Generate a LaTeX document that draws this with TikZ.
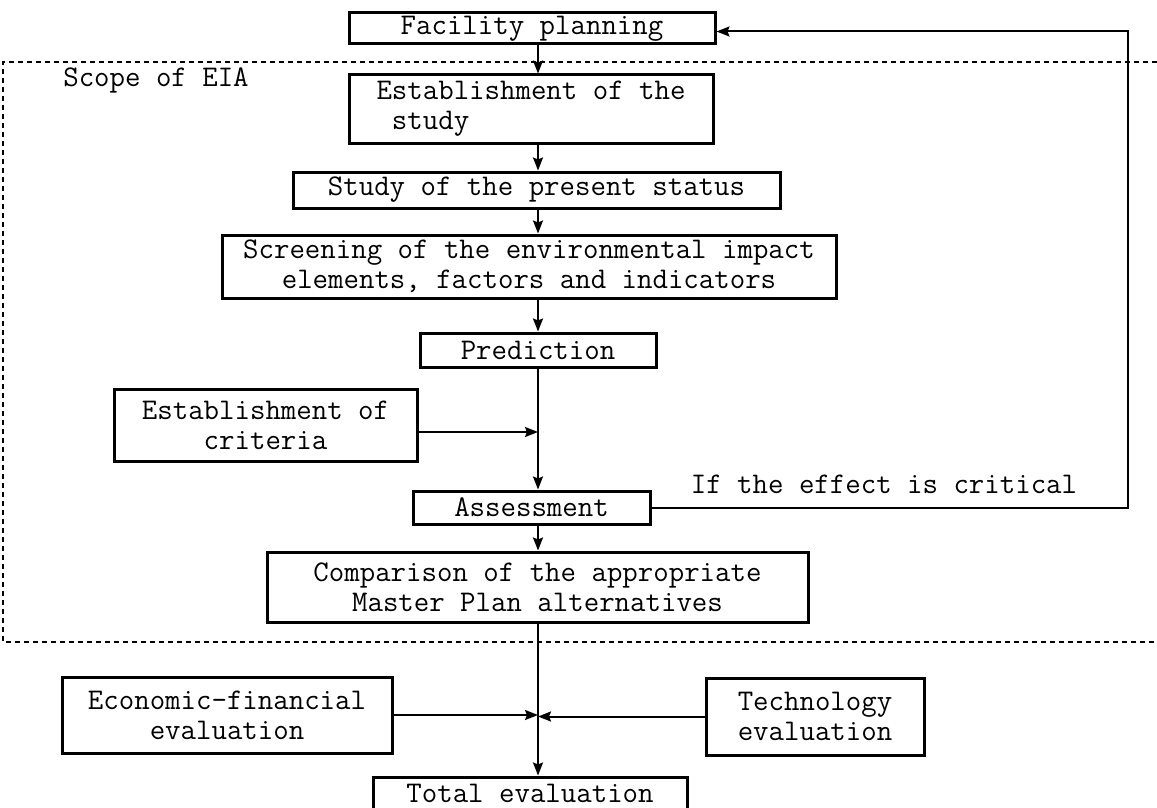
\documentclass[tikz,border=0pt]{standalone}
\usetikzlibrary{arrows.meta}
\newcommand\tfont{\fontsize{30}{30}\selectfont\ttfamily}
\begin{document}
\begin{tikzpicture}[x=1pt,y=-1pt,
  box/.style={draw, line width=3pt, inner sep=0pt, align=center, font=\tfont},
  lbl/.style={inner sep=0pt, font=\tfont},
  conn/.style={line width=2pt, -{Stealth[length=13pt,width=10pt,inset=2pt]}},
  scopeline/.style={line width=2pt, dash pattern=on 5pt off 4pt}]
\useasboundingbox (0,0) rectangle (1157,808);
\fill[white] (0,0) rectangle (1157,808);
% scope of EIA
\draw[scopeline] (1157,62) -- (3,62) -- (3,642) -- (1157,642);
\node[lbl] (scope) at (156,80) {Scope of EIA};
% boxes
\node[box, minimum width=366pt, minimum height=31pt] (fac) at (532,28.5) {Facility planning};
\node[box, minimum width=364pt, minimum height=68pt, align=left] (est) at (531,109) {Establishment of the\\\ study};
\node[box, minimum width=487pt, minimum height=36pt] (sta) at (536.5,190) {Study of the present status};
\node[box, minimum width=614pt, minimum height=63pt] (scr) at (529,266.5) {Screening of the environmental impact\\elements, factors and indicators};
\node[box, minimum width=236pt, minimum height=34pt] (pre) at (538,350) {Prediction};
\node[box, minimum width=303pt, minimum height=72pt] (cri) at (265.5,425) {Establishment of\\criteria};
\node[box, minimum width=237pt, minimum height=33pt] (ass) at (531.5,507.5) {Assessment};
\node[box, minimum width=541pt, minimum height=70pt] (com) at (537.5,587) {Comparison of the appropriate\\Master Plan alternatives};
\node[box, minimum width=330pt, minimum height=76pt] (eco) at (227,715) {Economic-financial\\evaluation};
\node[box, minimum width=218pt, minimum height=77pt] (tec) at (815,716.5) {Technology\\evaluation};
\node[box, minimum width=314pt, minimum height=33pt] (tot) at (530,793.5) {Total evaluation};
\node[lbl] (crit) at (884,484) {If the effect is critical};
% helper coordinates
\coordinate (cx) at (538,0);
\coordinate (fb) at (1128,0);
% connectors
\draw[conn] (fac.south -| cx) -- (est.north -| cx);
\draw[conn] (est.south -| cx) -- (sta.north -| cx);
\draw[conn] (sta.south -| cx) -- (scr.north -| cx);
\draw[conn] (scr.south -| cx) -- (pre.north -| cx);
\draw[conn] (pre.south -| cx) -- (ass.north -| cx);
\draw[conn] ([yshift=-7pt]cri.east) -- ([yshift=-7pt]cri.east -| cx);
\draw[conn] (ass.south -| cx) -- (com.north -| cx);
\draw[conn] (com.south -| cx) -- (tot.north -| cx);
\draw[conn] (eco.east) -- (eco.east -| cx);
\draw[conn] (tec.west) -- (tec.west -| cx);
\draw[conn] (ass.east) -- (ass.east -| fb) -- ([yshift=-3pt]fac.east -| fb) -- ([yshift=-3pt]fac.east);
\end{tikzpicture}
\end{document}
